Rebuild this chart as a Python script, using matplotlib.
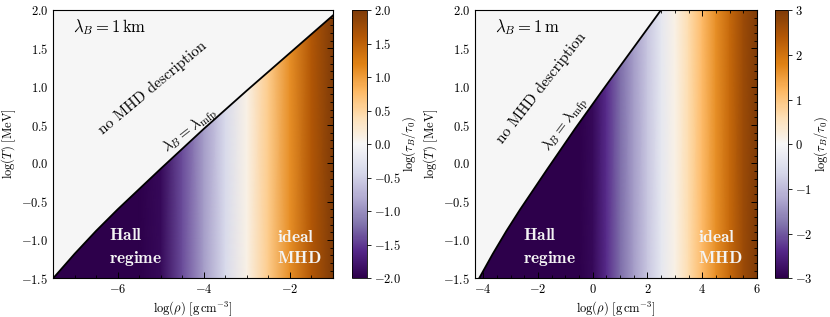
import numpy as np
import matplotlib
matplotlib.use("Agg")
import matplotlib.pyplot as plt
from matplotlib.ticker import MultipleLocator

plt.rcParams['font.family'] = 'serif'
plt.rcParams['font.serif'] = ['cmr10', 'DejaVu Serif']
plt.rcParams['mathtext.fontset'] = 'cm'
plt.rcParams['axes.formatter.use_mathtext'] = True
plt.rcParams['font.size'] = 9

# log(tau_B/tau_0) ueber log(rho) (haengt nur von rho ab)
lrho_km = [-7.5, -5.5, -5.0, -4.5, -4.0, -3.5, -3.0, -2.5, -2.0, -1.5, -1.0]
ltau_km = [-4.4, -2.4, -1.9, -1.4, -0.9, -0.4, 0.1, 0.6, 1.1, 1.6, 2.1]

lrho_m = [-4.3, -0.5, 0.0, 0.5, 1.0, 1.5, 2.0, 2.5, 3.0, 3.5, 4.0, 4.5, 5.0, 5.5, 6.0]
ltau_m = [-7.15, -3.35, -2.85, -2.35, -1.85, -1.35, -0.85, -0.35, 0.15, 0.65,
          1.15, 1.65, 2.15, 2.65, 3.15]

# Grenzlinie lambda_B = lambda_mfp
lrho_lam_km = [-7.5, -7.0, -6.5, -6.0, -5.0, -4.0, -3.0, -2.0, -1.0]
logT_lam_km = [-1.5, -1.18, -0.88, -0.6, -0.07, 0.45, 0.95, 1.44, 1.93]

lrho_lam_m = [-4.15, -3.65, -3.15, -2.65, -1.65, -0.65, 0.35, 1.35, 2.35, 2.49]
logT_lam_m = [-1.5, -1.18, -0.88, -0.6, -0.07, 0.45, 0.95, 1.44, 1.93, 2.0]

panels = [
    dict(lrho=lrho_km, ltau=ltau_km, xb=lrho_lam_km, yb=logT_lam_km,
         xlim=(-7.5, -1.0), vlim=(-2, 2), cticks=np.arange(-2, 2.01, 0.5),
         lam=r'$\lambda_B = 1\,\mathrm{km}$',
         nomhd=(-5.19, 0.99, 40), lamtxt=(-4.31, 0.43, 38),
         hall=(-6.2, -1.1), ideal=(-2.3, -1.1),
         rect=[0.064, 0.122, 0.337, 0.846], crect=[0.4237, 0.122, 0.018, 0.846]),
    dict(lrho=lrho_m, ltau=ltau_m, xb=lrho_lam_m, yb=logT_lam_m,
         xlim=(-4.3, 6.0), vlim=(-3, 3), cticks=np.arange(-3, 3.01, 1),
         lam=r'$\lambda_B = 1\,\mathrm{m}$',
         nomhd=(-1.87, 0.99, 52), lamtxt=(-0.99, 0.50, 53),
         hall=(-2.55, -1.1), ideal=(3.83, -1.1),
         rect=[0.5723, 0.122, 0.3397, 0.846], crect=[0.9337, 0.122, 0.016, 0.846]),
]

fig = plt.figure(figsize=(8.3, 3.17), dpi=100)
ylim = (-1.5, 2.0)

for p in panels:
    ax = fig.add_axes(p['rect'])
    cax = fig.add_axes(p['crect'])

    X, Y = np.meshgrid(p['lrho'], ylim)
    C = np.tile(p['ltau'], (2, 1))
    mesh = ax.pcolormesh(X, Y, C, cmap='PuOr_r', vmin=p['vlim'][0], vmax=p['vlim'][1],
                         shading='gouraud', rasterized=True)

    # Bereich ohne MHD-Beschreibung
    x0 = p['xlim'][0] - 0.5
    xs = np.concatenate([p['xb'], [p['xb'][-1] + 0.5, p['xb'][-1] + 0.5, x0, x0]])
    ys = np.concatenate([p['yb'], [p['yb'][-1] + 0.25, 2.5, 2.5, -2.0]])
    ax.fill(xs, ys, color='#f6f6f6', lw=0, zorder=2)
    ax.plot(p['xb'], p['yb'], color='black', lw=1.3, zorder=3)

    ax.set_xlim(p['xlim'])
    ax.set_ylim(ylim)
    ax.xaxis.set_major_locator(MultipleLocator(2))
    ax.xaxis.set_minor_locator(MultipleLocator(0.5))
    ax.yaxis.set_major_locator(MultipleLocator(0.5))
    ax.yaxis.set_minor_locator(MultipleLocator(0.1))
    ax.tick_params(which='both', direction='in', top=True, right=True)
    ax.tick_params(which='major', length=4.5, width=0.7)
    ax.tick_params(which='minor', length=2.3, width=0.6)
    ax.set_xlabel(r'$\log(\rho)\ [\mathrm{g\,cm^{-3}}]$', labelpad=2)
    ax.set_ylabel(r'$\log(T)\ [\mathrm{MeV}]$', labelpad=2)

    ax.text(0.07, 0.935, p['lam'], transform=ax.transAxes, fontsize=12,
            ha='left', va='center', zorder=4)
    ax.text(p['nomhd'][0], p['nomhd'][1], 'no MHD description', fontsize=11,
            rotation=p['nomhd'][2], ha='center', va='center', zorder=4)
    ax.text(p['lamtxt'][0], p['lamtxt'][1], r'$\lambda_B = \lambda_\mathrm{mfp}$',
            fontsize=11, rotation=p['lamtxt'][2], ha='center', va='center', zorder=4)
    ax.text(p['hall'][0], p['hall'][1], r'$\mathbf{Hall}$' + '\n' + r'$\mathbf{regime}$',
            fontsize=12.5, color='#f4f4f4', ha='left', va='center', linespacing=1.4, zorder=4)
    ax.text(p['ideal'][0], p['ideal'][1], r'$\mathbf{ideal}$' + '\n' + r'$\mathbf{MHD}$',
            fontsize=12.5, color='#f4f4f4', ha='left', va='center', linespacing=1.4, zorder=4)

    cb = fig.colorbar(mesh, cax=cax, ticks=p['cticks'])
    cb.set_label(r'$\log(\tau_B/\tau_0)$', labelpad=0)
    cb.ax.tick_params(length=3, width=0.6, pad=2)
    cb.outline.set_linewidth(0.6)

fig.savefig('out.png', dpi=100)
